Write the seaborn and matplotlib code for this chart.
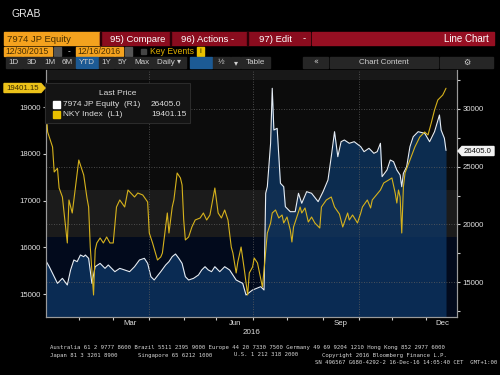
import matplotlib
matplotlib.use("Agg")
import matplotlib.pyplot as plt
from matplotlib.patches import Rectangle, Polygon
import seaborn as sns

# trading-day index (0 = 30 Dec 2015, 244 = 16 Dec 2016) and values
nin_day = [0, 2, 7, 10, 13, 15, 17, 19, 21, 23, 24, 26, 28, 30, 33, 36, 38, 42, 45, 48,
           51, 54, 57, 60, 62, 64, 66, 70, 73, 75, 77, 79, 81, 83, 85, 87, 90, 93, 95, 97,
           99, 101, 103, 106, 109, 112, 114, 116, 118, 120, 122, 126, 131, 133, 134, 135, 137, 138, 139, 141,
           143, 145, 146, 149, 152, 154, 156, 159, 162, 166, 169, 172, 174, 176, 178, 180, 182, 185, 188, 192,
           194, 197, 200, 202, 204, 205, 208, 210, 212, 214, 216, 217, 218, 220, 222, 224, 227, 231, 234, 237,
           240, 241, 243, 244]
nin_val = [16822, 16327, 14883, 15317, 14741, 16042, 16908, 16764, 17342, 17197, 17342, 17053, 14883, 16327, 16616, 16183, 16475, 15894, 16183, 16042,
           15894, 16327, 16908, 17053, 16616, 15461, 15174, 15894, 16475, 16764, 17197, 17429, 17053, 16616, 15461, 15174, 15317, 15608, 16042, 16327,
           16042, 15894, 16327, 15894, 16327, 16042, 15608, 15174, 15026, 14883, 13874, 14307, 14594, 14307, 22691, 23263, 27026, 31795, 28179, 28323,
           23558, 23263, 21530, 21098, 21098, 22691, 21824, 22831, 22691, 21967, 22831, 23844, 25864, 28032, 25864, 27165, 27312, 27026, 27165, 26731,
           26298, 26593, 26159, 26298, 27026, 24131, 24711, 25578, 25431, 24711, 24278, 23263, 24425, 24997, 26731, 27598, 28032, 27893, 27165, 28032,
           29480, 28179, 27459, 26405]

nky_day = [0, 1, 4, 5, 7, 8, 10, 13, 14, 16, 17, 20, 23, 25, 26, 27, 29, 30, 31, 33,
           35, 37, 39, 41, 43, 45, 48, 50, 54, 56, 59, 62, 63, 65, 68, 70, 71, 74, 75, 77,
           78, 80, 82, 83, 84, 85, 87, 89, 91, 94, 96, 98, 100, 103, 105, 107, 109, 111, 113, 114,
           116, 117, 119, 121, 123, 124, 126, 127, 129, 132, 133, 135, 137, 138, 140, 142, 144, 145, 147, 149,
           150, 151, 153, 155, 156, 158, 160, 162, 164, 167, 168, 171, 174, 176, 179, 181, 184, 185, 187, 190,
           192, 193, 196, 198, 199, 204, 206, 209, 211, 213, 214, 215, 216, 217, 218, 219, 222, 225, 228, 231,
           233, 235, 237, 239, 242, 244]
nky_val = [19000, 18466, 18145, 17611, 17690, 17269, 17077, 16094, 17013, 16735, 17013, 17867, 17547, 17055, 16863, 16008, 14982, 15944, 16094, 16201,
           16094, 16222, 16094, 16094, 16863, 17013, 16863, 17226, 17077, 17162, 17120, 16970, 16307, 16094, 15730, 15795, 15880, 16735, 16307, 16863,
           17013, 17590, 17483, 17333, 16585, 16158, 16222, 16436, 16585, 16628, 16735, 16585, 16692, 17269, 16735, 16628, 16799, 16585, 16008, 15880,
           15453, 15688, 16008, 15517, 14982, 15453, 15581, 15773, 15667, 15153, 15517, 16307, 16521, 16735, 16799, 16628, 16692, 16521, 16649, 16372,
           16115, 16436, 16649, 16863, 16735, 16842, 16542, 16649, 16521, 16414, 16863, 17013, 17077, 16863, 16713, 16436, 16735, 16585, 16692, 16521,
           16735, 16863, 17013, 16842, 17013, 17226, 17376, 17440, 17483, 17162, 16948, 17226, 17077, 16307, 17290, 17590, 17867, 18145, 18359, 18466,
           18402, 18658, 18936, 19150, 19256, 19401.15]

month_start = [20, 41, 63, 84, 104, 126, 147, 169, 191, 211, 232]
month_lab_pos = [51, 115, 179.5, 242]
month_lab = ["Mar", "Jun", "Sep", "Dec"]

sns.set_theme(style="dark")
plt.rcParams["font.family"] = ["Liberation Sans", "DejaVu Sans"]

W, H = 500, 375
fig = plt.figure(figsize=(5, 3.75), dpi=100, facecolor="black")


def box(x0, y0, x1, y1, color, **kw):
    fig.add_artist(Rectangle((x0 / W, 1 - y1 / H), (x1 - x0) / W, (y1 - y0) / H,
                             transform=fig.transFigure, color=color, **kw))


def txt(x, y, s, **kw):
    kw.setdefault("color", "white")
    kw.setdefault("va", "center")
    kw.setdefault("fontsize", 6.5)
    fig.text(x / W, 1 - y / H, s, **kw)


# ---- header chrome ----
txt(11, 14, "GRAB", fontsize=7.5, color="#e8e8e8")
box(4, 32, 100, 45, "#f4a21e")
txt(7, 39, "7974 JP Equity", color="#4a3000", fontsize=6.8)
box(100, 32, 310, 45, "#8a0c1e")
box(312, 32, 494, 45, "#960f22")
for xs in [100, 170, 247]:
    box(xs, 32, xs + 1, 45, "#2a0006")
txt(110, 39, "95) Compare", fontsize=6.8)
txt(181, 39, "96) Actions -", fontsize=6.8)
txt(259, 39, "97) Edit", fontsize=6.8)
txt(303, 39, "-", fontsize=6.8)
txt(489, 39.5, "Line Chart", fontsize=7, ha="right")

box(4, 47, 52, 56, "#f4a21e")
txt(5, 51.5, "12/30/2015", color="#4a3000", fontsize=6.2)
box(54, 47, 61, 56, "#555555")
txt(68, 51.5, "-", fontsize=6)
box(76, 47, 123, 56, "#f4a21e")
txt(77, 51.5, "12/16/2016", color="#4a3000", fontsize=6.2)
box(125, 47, 132, 56, "#555555")
box(141, 49, 146, 54, "#444444")
txt(150, 51.5, "Key Events", color="#e0b000", fontsize=6.2)
box(197, 47, 204, 56, "#e8c000")
txt(200.5, 51.5, "i", color="#333300", fontsize=6, ha="center")

buttons = [(6, 22, "1D"), (23, 40, "3D"), (41, 58, "1M"), (59, 75, "6M"), (76, 98, "YTD"),
           (99, 114, "1Y"), (115, 131, "5Y"), (132, 151, "Max"), (152, 186, "Daily \u25be"),
           (190, 212, ""), (213, 230, "\u00bd"), (231, 240, "\u25be"), (241, 270, "Table"),
           (303, 328, "\u00ab"), (330, 438, "Chart Content"), (440, 493, "\u2699")]
for x0, x1, s in buttons:
    c = "#1c5a94" if s in ("YTD", "") else "#262626"
    box(x0, 57, x1, 67.5, c)
    txt((x0 + x1) / 2, 62.3, s, color="#cfcfcf", fontsize=5.8, ha="center",
        family=["DejaVu Sans"] if s in ("\u2699", "\u25be", "\u00ab") else None)

# ---- plot area ----
ax = fig.add_axes([46 / W, 58 / H, 411 / W, 247 / H])
ax2 = ax.twinx()
ax.set_zorder(ax2.get_zorder() + 1)
ax.patch.set_visible(False)
ax2.patch.set_visible(True)
ax2.patch.set_facecolor("#0c0c0c")

# horizontal shading bands
ax2.axhspan(11966, 18902, color="#020a1c", zorder=0.2, lw=0)
ax2.axhspan(18902, 22977, color="#1b1b1b", zorder=0.2, lw=0)
ax2.axhspan(32514, 33381, color="#181818", zorder=0.2, lw=0)

ax2.fill_between(nin_day, nin_val, 0, color="#0d3766", alpha=0.75, lw=0, zorder=1)
sns.lineplot(x=nin_day, y=nin_val, ax=ax2, color="#e6edf5", linewidth=0.8, zorder=2)
sns.lineplot(x=nky_day, y=nky_val, ax=ax, color="#d6b21c", linewidth=0.8, zorder=3)

ax.set_xlim(0, 250.7)
ax.set_ylim(14512, 19791)
ax2.set_ylim(11966, 33381)

# grids
ax2.set_yticks([15000, 20000, 25000, 30000])
ax2.set_yticks([12500, 17500, 22500, 27500, 32500], minor=True)
ax2.grid(axis="y", which="major", color="#5e5e5e", linestyle=(0, (1, 2)), linewidth=0.6)
ax2.set_axisbelow("line")
for d in [63, 126, 191]:
    ax.axvline(d, color="#5e5e5e", linestyle=(0, (1, 2)), linewidth=0.6, zorder=1.5)

ax.set_yticks([15000, 16000, 17000, 18000, 19000])
ax.set_yticks([14500 + 500 * k for k in range(1, 11, 2)], minor=True)
ax.set_xticks(month_start)
ax.set_xticklabels([])
ax.set_xticks(month_lab_pos, minor=True)
ax.set_xticklabels(month_lab, minor=True)
ax.grid(False)

ax.tick_params(axis="y", which="both", left=True, length=2.5, width=0.8, color="#cccccc",
               labelsize=5.6, labelcolor="#e0e0e0", pad=1.5)
ax.tick_params(axis="x", which="major", bottom=True, length=2.5, width=0.8, color="#cccccc")
ax.tick_params(axis="x", which="minor", bottom=True, length=0, labelsize=5.6,
               labelcolor="#e0e0e0", pad=2)
ax2.tick_params(axis="y", which="both", right=True, length=2.5, width=0.8, color="#cccccc",
                labelsize=5.6, labelcolor="#e0e0e0", pad=1.5)
ax2.tick_params(axis="x", which="both", bottom=False, labelbottom=False)

for a in (ax, ax2):
    a.set_xlabel("")
    a.set_ylabel("")
    a.spines["top"].set_visible(False)
    for s in ("left", "right", "bottom"):
        a.spines[s].set_color("#9a9a9a")
        a.spines[s].set_linewidth(0.8)

txt(252, 333, "2016", color="#e0e0e0", fontsize=5.8, ha="center")

# legend box
box(45, 83, 190, 123, "#141414", zorder=5)
fig.add_artist(Rectangle((45 / W, 1 - 123 / H), 145 / W, 40 / H, transform=fig.transFigure,
                         fill=False, edgecolor="#303030", lw=0.6, zorder=5.1))
txt(118, 93.5, "Last Price", color="#dddddd", fontsize=6, ha="center", zorder=6)
box(53, 101, 60, 108, "#ffffff", zorder=6)
txt(63, 104.5, "7974 JP Equity  (R1)", color="#dddddd", fontsize=6, zorder=6)
txt(151, 104.5, "26405.0", color="#dddddd", fontsize=6, zorder=6)
box(53, 111, 60, 118, "#e8c000", zorder=6)
txt(63, 114.5, "NKY Index  (L1)", color="#dddddd", fontsize=6, zorder=6)
txt(151, 114.5, "19401.15", color="#dddddd", fontsize=6, zorder=6)

# last-value tags
fig.add_artist(Polygon([(4 / W, 1 - 83.5 / H), (41 / W, 1 - 83.5 / H), (45 / W, 1 - 88 / H),
                        (41 / W, 1 - 92.5 / H), (4 / W, 1 - 92.5 / H)],
                       closed=True, transform=fig.transFigure, color="#ecc21a", zorder=6))
txt(23, 88, "19401.15", color="#3a2a00", fontsize=5.6, ha="center", zorder=7)
fig.add_artist(Polygon([(458 / W, 1 - 151 / H), (462 / W, 1 - 146.5 / H), (494 / W, 1 - 146.5 / H),
                        (494 / W, 1 - 155.5 / H), (462 / W, 1 - 155.5 / H)],
                       closed=True, transform=fig.transFigure, color="#f2f2f2", zorder=6))
txt(478, 151, "26405.0", color="#111111", fontsize=5.6, ha="center", zorder=7)

# footer
mono = dict(family=["DejaVu Sans Mono"], fontsize=4.1, color="#d8d8d8")
txt(50, 348, "Australia 61 2 9777 8600 Brazil 5511 2395 9000 Europe 44 20 7330 7500 "
             "Germany 49 69 9204 1210 Hong Kong 852 2977 6000", **mono)
txt(50, 355, "Japan 81 3 3201 8900", **mono)
txt(138, 355, "Singapore 65 6212 1000", **mono)
txt(234, 355, "U.S. 1 212 318 2000", **mono)
txt(322, 355, "Copyright 2016 Bloomberg Finance L.P.", **mono)
txt(497, 362, "SN 496567 G680-4292-2 16-Dec-16 14:05:40 CET  GMT+1:00", ha="right", **mono)

fig.savefig("out.png", dpi=100, facecolor="black")
